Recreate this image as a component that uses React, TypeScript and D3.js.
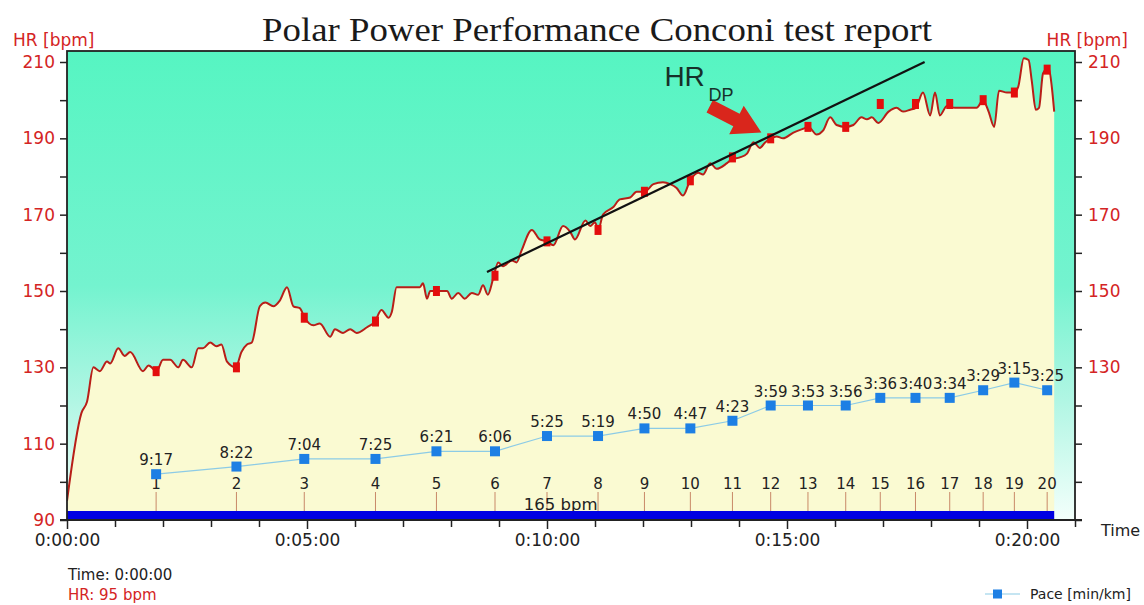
import { useEffect, useRef } from "react";
import * as d3 from "d3";

// heart rate samples: seconds from start / bpm
const hrTime = [
  0, 18, 25, 33, 41, 50, 54, 64, 72, 79, 95, 102, 112, 120, 129, 139, 145, 156, 164, 170,
  179, 187, 193, 200, 211, 218, 225, 231, 241, 248, 258, 266, 275, 283, 291, 297, 308, 316, 329, 335,
  345, 354, 362, 375, 385, 393, 402, 406, 412, 441, 445, 450, 454, 462, 475, 481, 489, 497, 506, 514,
  520, 526, 533, 539, 545, 556, 562, 568, 581, 591, 600, 608, 620, 629, 635, 648, 654, 660, 664, 670,
  683, 691, 704, 712, 722, 733, 745, 754, 762, 770, 779, 789, 795, 804, 812, 825, 831, 841, 850, 858,
  866, 873, 880, 887, 895, 908, 920, 927, 937, 945, 954, 962, 973, 983, 993, 1000, 1006, 1014, 1027, 1037,
  1045, 1054, 1061, 1070, 1079, 1085, 1091, 1100, 1110, 1137, 1145, 1152, 1159, 1165, 1175, 1184, 1189, 1196, 1202, 1206,
  1211, 1215, 1220, 1227, 1231, 1234,
];
const hrValue = [
  95, 118, 121, 130, 129, 131.5, 131, 135, 133, 134, 129, 130.5, 129, 132, 132, 130, 132, 130, 135, 135,
  136.5, 135.5, 136, 131.5, 130, 134, 136, 136.5, 146, 147, 146, 147.5, 151, 146, 145.5, 143, 141, 141.5, 138, 140,
  139, 140, 139, 140.5, 142, 145, 143, 144.5, 151, 151, 152, 148, 150, 150, 150, 148, 149.5, 148, 149.5, 149,
  151.5, 149, 153.5, 157.5, 156.5, 158, 157.5, 160.5, 166, 163.5, 163, 162, 167, 165.5, 163.5, 168.5, 167, 168, 166, 170,
  172, 174, 174.5, 176, 176, 178, 178.5, 178, 177, 175, 179, 181, 180.5, 183.5, 182, 183.5, 184.5, 185, 186, 189,
  187.5, 189, 190, 190.5, 190, 191.5, 192.5, 193, 191, 192, 195.5, 193.5, 193, 193.5, 195.5, 195, 195.5, 194, 197, 198,
  197, 197.5, 198, 202, 196, 202, 196, 198.5, 198, 198, 200, 197, 193, 202.5, 202, 202, 203.5, 211, 210.5, 205,
  197.5, 198, 207, 208.5, 203.5, 197,
];

// 200 m laps
const lapPace = [
  "9:17", "8:22", "7:04", "7:25", "6:21", "6:06", "5:25", "5:19", "4:50", "4:47",
  "4:23", "3:59", "3:53", "3:56", "3:36", "3:40", "3:34", "3:29", "3:15", "3:25",
];
const lapHR = [129, 130, 143, 142, 150, 154, 163, 166, 176, 179, 185, 190, 193, 193, 199, 199, 199, 200, 202, 208];
const lapSpeed = [6, 7, 8, 8, 9, 9, 11, 11, 12, 12, 13, 15, 15, 15, 16, 16, 16, 17, 18, 17];
const lapKm = 0.2;

const hrTicks = [90, 100, 110, 120, 130, 140, 150, 160, 170, 180, 190, 200, 210];
const hrLeftLabels = [90, 110, 130, 150, 170, 190, 210];
const hrRightLabels = [130, 150, 170, 190, 210];
const timeLabels = [0, 300, 600, 900, 1200];

// deflection point annotation
const dpLine = [
  { t: 525, hr: 155 },
  { t: 1072, hr: 210 },
];
const dpPoint = { t: 868, hr: 191.5 };
const zoneLabel = "165 bpm";

const sans = "DejaVu Sans, sans-serif";
const red = "#d42424";

function fmtTime(s: number) {
  const m = Math.floor(s / 60);
  const sec = s % 60;
  return `0:${String(m).padStart(2, "0")}:${String(sec).padStart(2, "0")}`;
}

function paceSeconds(p: string) {
  const [m, s] = p.split(":").map(Number);
  return m * 60 + s;
}

export default function App() {
  const ref = useRef<SVGSVGElement>(null);

  useEffect(() => {
    const svg = d3.select(ref.current);
    svg.selectAll("*").remove();

    const left = 67, right = 1075, top = 51, bottom = 520;
    const x = d3.scaleLinear().domain([0, 1260]).range([left, right]);
    const y = d3.scaleLinear().domain([90, 210]).range([bottom, 62]);
    const ySpeed = d3.scaleLinear().domain([0, 60]).range([bottom, 62]);

    const hr = hrTime.map((t, i) => ({ t, v: hrValue[i] }));
    const endT = hrTime[hrTime.length - 1];
    const lapEnd = d3.cumsum(lapPace.map(paceSeconds)).map((s) => s * lapKm);
    const laps = lapPace.map((p, i) => ({ n: i + 1, p, t: lapEnd[i], hr: lapHR[i], sp: lapSpeed[i] }));

    const defs = svg.append("defs");
    const grad = defs.append("linearGradient").attr("id", "bg").attr("x1", 0).attr("y1", 0).attr("x2", 0).attr("y2", 1);
    [
      [0, "#56f5c2"],
      [0.5, "#74f3cf"],
      [0.75, "#b2f6e4"],
      [1, "#f3fffb"],
    ].forEach(([o, c]) => grad.append("stop").attr("offset", o as number).attr("stop-color", c as string));
    defs.append("clipPath").attr("id", "plot").append("rect")
      .attr("x", left).attr("y", top).attr("width", right - left).attr("height", bottom - top);

    svg.append("text")
      .attr("x", 597).attr("y", 41)
      .attr("text-anchor", "middle")
      .attr("font-family", "Liberation Serif, serif")
      .attr("font-size", 34)
      .attr("textLength", 670)
      .attr("lengthAdjust", "spacingAndGlyphs")
      .attr("fill", "#1a1a1a")
      .text("Polar Power Performance Conconi test report");

    svg.append("rect")
      .attr("x", left).attr("y", top).attr("width", right - left).attr("height", bottom - top)
      .attr("fill", "url(#bg)");

    const plot = svg.append("g").attr("clip-path", "url(#plot)");

    const area = d3.area<{ t: number; v: number }>()
      .x((d) => x(d.t)).y0(bottom).y1((d) => y(d.v))
      .curve(d3.curveMonotoneX);
    plot.append("path").datum(hr).attr("d", area).attr("fill", "#fafad2");

    // lap markers
    plot.selectAll(".lapline").data(laps).join("line")
      .attr("x1", (d) => x(d.t)).attr("x2", (d) => x(d.t))
      .attr("y1", bottom - 28).attr("y2", bottom - 9)
      .attr("stroke", "#c88868").attr("stroke-width", 1);

    plot.selectAll(".lapnum").data(laps).join("text")
      .attr("x", (d) => x(d.t)).attr("y", bottom - 31)
      .attr("text-anchor", "middle")
      .attr("font-family", sans).attr("font-size", 15).attr("fill", "#222")
      .text((d) => d.n);

    // pace
    const paceLine = d3.line<(typeof laps)[number]>().x((d) => x(d.t)).y((d) => ySpeed(d.sp));
    plot.append("path").datum(laps).attr("d", paceLine)
      .attr("fill", "none").attr("stroke", "#8ccbe6").attr("stroke-width", 1.2);
    plot.selectAll(".pace").data(laps).join("rect")
      .attr("x", (d) => x(d.t) - 5).attr("y", (d) => ySpeed(d.sp) - 5)
      .attr("width", 10).attr("height", 10)
      .attr("fill", "#1d7fe4");
    plot.selectAll(".pacelbl").data(laps).join("text")
      .attr("x", (d) => x(d.t)).attr("y", (d) => ySpeed(d.sp) - 9)
      .attr("text-anchor", "middle")
      .attr("font-family", sans).attr("font-size", 15).attr("fill", "#222")
      .text((d) => d.p);

    // zone bar
    plot.append("text")
      .attr("x", (x(0) + x(endT)) / 2).attr("y", bottom - 10)
      .attr("text-anchor", "middle")
      .attr("font-family", sans).attr("font-size", 16.5).attr("fill", "#222")
      .text(zoneLabel);
    plot.append("rect")
      .attr("x", x(0)).attr("y", bottom - 9).attr("width", x(endT) - x(0)).attr("height", 9)
      .attr("fill", "#0000e2");

    // heart rate line
    const line = d3.line<{ t: number; v: number }>()
      .x((d) => x(d.t)).y((d) => y(d.v))
      .curve(d3.curveMonotoneX);
    plot.append("path").datum(hr).attr("d", line)
      .attr("fill", "none").attr("stroke", "#b81e18").attr("stroke-width", 2);

    plot.selectAll(".laphr").data(laps).join("rect")
      .attr("x", (d) => x(d.t) - 3.5).attr("y", (d) => y(d.hr) - 5)
      .attr("width", 7).attr("height", 10)
      .attr("fill", "#e30d0d");

    // HR deflection point
    plot.append("line")
      .attr("x1", x(dpLine[0].t)).attr("y1", y(dpLine[0].hr))
      .attr("x2", x(dpLine[1].t)).attr("y2", y(dpLine[1].hr))
      .attr("stroke", "#111").attr("stroke-width", 2.2);

    const tipX = x(dpPoint.t), tipY = y(dpPoint.hr);
    const arrow: [number, number][] = [[0, 0], [-28, -16], [-28, -7], [-58, -7], [-58, 7], [-28, 7], [-28, 16]];
    svg.append("polygon")
      .attr("points", arrow.map((p) => p.join(",")).join(" "))
      .attr("transform", `translate(${tipX},${tipY}) rotate(27)`)
      .attr("fill", "#d9261c");
    svg.append("text")
      .attr("x", tipX - 97).attr("y", tipY - 47)
      .attr("font-family", "Liberation Sans, Arial, sans-serif").attr("font-size", 28)
      .attr("fill", "#17302a").text("HR");
    svg.append("text")
      .attr("x", tipX - 53).attr("y", tipY - 32)
      .attr("font-family", "Liberation Sans, Arial, sans-serif").attr("font-size", 18)
      .attr("fill", "#17302a").text("DP");

    // border
    svg.append("rect")
      .attr("x", left).attr("y", top).attr("width", right - left).attr("height", bottom - top)
      .attr("fill", "none").attr("stroke", "#222").attr("stroke-width", 1.8);

    // axes
    const styleAxis = (g: d3.Selection<SVGGElement, unknown, null, undefined>, color: string) => {
      g.attr("font-family", sans).attr("font-size", 17);
      g.select(".domain").remove();
      g.selectAll(".tick line").attr("stroke", "#222").attr("stroke-width", 1.5);
      g.selectAll(".tick text").attr("fill", color);
    };

    svg.append("g")
      .attr("transform", `translate(${left},0)`)
      .call(d3.axisLeft(y).tickValues(hrTicks).tickSize(7).tickPadding(5)
        .tickFormat((d) => (hrLeftLabels.includes(+d) ? String(d) : "")))
      .call((g) => styleAxis(g, red));

    svg.append("g")
      .attr("transform", `translate(${right},0)`)
      .call(d3.axisRight(y).tickValues(hrTicks).tickSize(7).tickPadding(6)
        .tickFormat((d) => (hrRightLabels.includes(+d) ? String(d) : "")))
      .call((g) => styleAxis(g, red));

    const xAxis = svg.append("g")
      .attr("transform", `translate(0,${bottom})`)
      .call(d3.axisBottom(x).tickValues(d3.range(0, 1261, 60)).tickSize(7).tickPadding(7)
        .tickFormat((d) => (timeLabels.includes(+d) ? fmtTime(+d) : "")))
      .call((g) => styleAxis(g, "#222"));
    xAxis.selectAll<SVGLineElement, number>(".tick line")
      .attr("y2", (d) => (timeLabels.includes(d) ? 9 : 7));
    svg.append("line")
      .attr("x1", left - 7).attr("x2", right + 7).attr("y1", bottom).attr("y2", bottom)
      .attr("stroke", "#222").attr("stroke-width", 1.8);

    // axis titles
    svg.append("text").attr("x", 13).attr("y", 46)
      .attr("font-family", sans).attr("font-size", 17).attr("fill", red).text("HR [bpm]");
    svg.append("text").attr("x", 1128).attr("y", 46).attr("text-anchor", "end")
      .attr("font-family", sans).attr("font-size", 17).attr("fill", red).text("HR [bpm]");
    svg.append("text").attr("x", 1101).attr("y", 536)
      .attr("font-family", sans).attr("font-size", 16).attr("fill", "#222").text("Time");

    // cursor info
    svg.append("text").attr("x", 68).attr("y", 580)
      .attr("font-family", sans).attr("font-size", 15).attr("fill", "#222")
      .text(`Time: ${fmtTime(hrTime[0])}`);
    svg.append("text").attr("x", 68).attr("y", 600)
      .attr("font-family", sans).attr("font-size", 15).attr("fill", red)
      .text(`HR: ${hrValue[0]} bpm`);

    // legend
    const lg = svg.append("g").attr("transform", "translate(985,594)");
    lg.append("line").attr("x1", 0).attr("x2", 35).attr("stroke", "#8ccbe6").attr("stroke-width", 1.2);
    lg.append("rect").attr("x", 8).attr("y", -4.5).attr("width", 9).attr("height", 9).attr("fill", "#1d7fe4");
    lg.append("text").attr("x", 45).attr("y", 5)
      .attr("font-family", sans).attr("font-size", 14).attr("fill", "#222")
      .text("Pace [min/km]");
  }, []);

  return <svg ref={ref} width={1144} height={605} style={{ position: "absolute", left: 0, top: 0 }} />;
}
